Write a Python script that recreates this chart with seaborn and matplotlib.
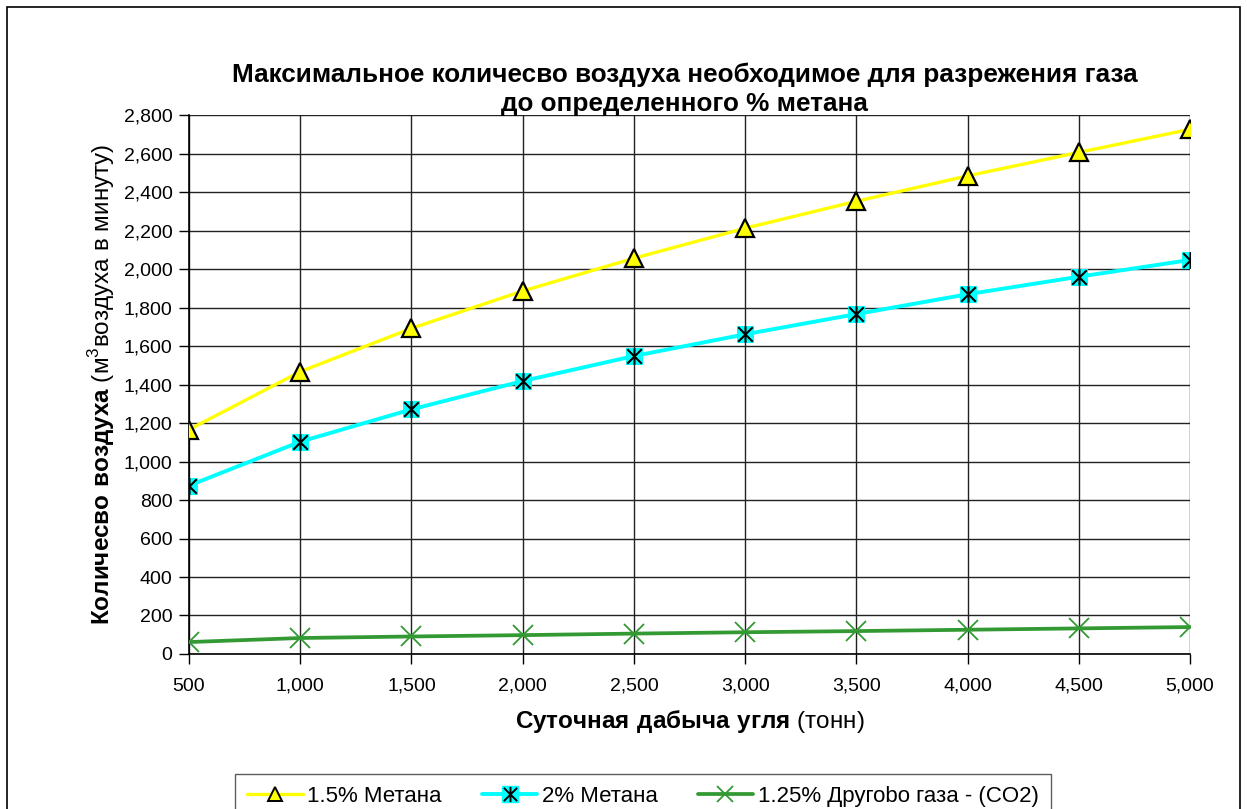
import matplotlib
matplotlib.use("Agg")
import matplotlib.pyplot as plt
import seaborn as sns
import pandas as pd
from matplotlib.path import Path
from matplotlib.patches import Rectangle
from matplotlib.legend_handler import HandlerTuple
from matplotlib.lines import Line2D
from matplotlib.ticker import FuncFormatter, MultipleLocator

# data
coal_tonnes = [500, 1000, 1500, 2000, 2500, 3000, 3500, 4000, 4500, 5000]
methane_15 = [1166, 1467, 1692, 1886, 2056, 2212, 2352, 2484, 2606, 2726]
methane_20 = [875, 1103, 1271, 1418, 1548, 1661, 1766, 1869, 1960, 2047]
other_gas_125 = [62, 83, 91, 98, 106, 113, 119, 126, 133, 140]

series_names = ["1.5% Метана", "2% Метана", "1.25% Другоbo газа - (CO2)"]

sns.set_theme(style="white")
plt.rcParams['font.family'] = ['Liberation Sans', 'DejaVu Sans']
plt.rcParams['text.color'] = 'black'
plt.rcParams['mathtext.fontset'] = 'custom'
plt.rcParams['mathtext.rm'] = 'Liberation Sans'
plt.rcParams['mathtext.bf'] = 'Liberation Sans:bold'

df = pd.DataFrame({"x": coal_tonnes, "y15": methane_15, "y20": methane_20, "yco2": other_gas_125})

# star marker: X with vertical bar (Excel style)
star = Path([(-1, -1), (1, 1), (-1, 1), (1, -1), (0, -1.15), (0, 1.15)],
            [Path.MOVETO, Path.LINETO, Path.MOVETO, Path.LINETO, Path.MOVETO, Path.LINETO])

fig = plt.figure(figsize=(12.47, 8.09), dpi=100)
ax = fig.add_axes([0.1516, 0.1916, 0.8027, 0.6662])

yellow, cyan, green = "#FFFF00", "#00FFFF", "#339933"

sns.lineplot(data=df, x="x", y="y15", ax=ax, color=yellow, lw=2.4, marker="^",
             markersize=13.5, markerfacecolor=yellow, markeredgecolor="black",
             markeredgewidth=1.6, zorder=5)
sns.lineplot(data=df, x="x", y="y20", ax=ax, color=cyan, lw=2.8, marker="s",
             markersize=12, markerfacecolor=cyan, markeredgecolor=cyan, zorder=5)
ax.plot(df["x"], df["y20"], ls="none", marker=star, markersize=12,
        markerfacecolor="none", markeredgecolor="black", markeredgewidth=1.5, zorder=6)
sns.lineplot(data=df, x="x", y="yco2", ax=ax, color=green, lw=2.7, zorder=5)
ax.plot(df["x"], df["yco2"], ls="none", marker="x", markersize=14,
        markerfacecolor="none", markeredgecolor=green, markeredgewidth=1.3, zorder=6)

ax.set_xlim(500, 5000)
ax.set_ylim(0, 2800)
ax.xaxis.set_major_locator(MultipleLocator(500))
ax.yaxis.set_major_locator(MultipleLocator(200))
fmt = FuncFormatter(lambda v, p: f"{int(v):,}")
ax.xaxis.set_major_formatter(fmt)
ax.yaxis.set_major_formatter(fmt)
ax.grid(True, color="#222222", lw=1)
ax.set_axisbelow(True)
for s in ax.spines.values():
    s.set_visible(False)
for side in ("left", "bottom"):
    ax.spines[side].set_visible(True)
    ax.spines[side].set_color("black")
    ax.spines[side].set_linewidth(1.2)
ax.tick_params(axis="both", direction="out", length=7, width=1, color="black",
               labelsize=14, labelcolor="black", bottom=True, left=True, pad=5)
ax.tick_params(axis="x", pad=10)

ax.set_xlabel(r"$\mathbf{Суточная\ дабыча\ угля}$ (тонн)", fontsize=17.5, labelpad=10, color="black")
ax.set_ylabel(r"$\mathbf{Количесво\ воздуха}$ (м$^3$воздуха в минуту)", fontsize=17.5,
              labelpad=5, color="black")

fig.text(0.549, 1 - 89 / 809,
         "Максимальное количесво воздуха необходимое для разрежения газа\nдо определенного % метана",
         ha="center", va="center", fontsize=18.8, fontweight="bold", linespacing=1.25,
         color="black")

h1 = Line2D([], [], color=yellow, lw=2.4, marker="^", markersize=10,
            markerfacecolor=yellow, markeredgecolor="black", markeredgewidth=1.4)
h2a = Line2D([], [], color=cyan, lw=2.8, marker="s", markersize=11,
             markerfacecolor=cyan, markeredgecolor=cyan)
h2b = Line2D([], [], ls="none", marker=star, markersize=11,
             markerfacecolor="none", markeredgecolor="black", markeredgewidth=1.4)
h3a = Line2D([], [], color=green, lw=2.7)
h3b = Line2D([], [], ls="none", marker="x", markersize=12,
             markerfacecolor="none", markeredgecolor=green, markeredgewidth=1.3)
leg = fig.legend([h1, (h2a, h2b), (h3a, h3b)], series_names,
                 handler_map={tuple: HandlerTuple(ndivide=1, pad=0)},
                 loc="upper left", bbox_to_anchor=(235 / 1247, 1 - 774 / 809),
                 borderaxespad=0, ncol=3, fontsize=16, frameon=True, fancybox=False,
                 edgecolor="#333333", handlelength=2.5, columnspacing=1.8,
                 handletextpad=0.2, borderpad=0.55, labelcolor="black")
leg.get_frame().set_linewidth(1)

fig.patches.append(Rectangle((7 / 1247, -0.02), 1233 / 1247, 1 - 7 / 809 + 0.02,
                             transform=fig.transFigure, fill=False,
                             edgecolor="black", lw=1.2))

fig.savefig("out.png", dpi=100)
